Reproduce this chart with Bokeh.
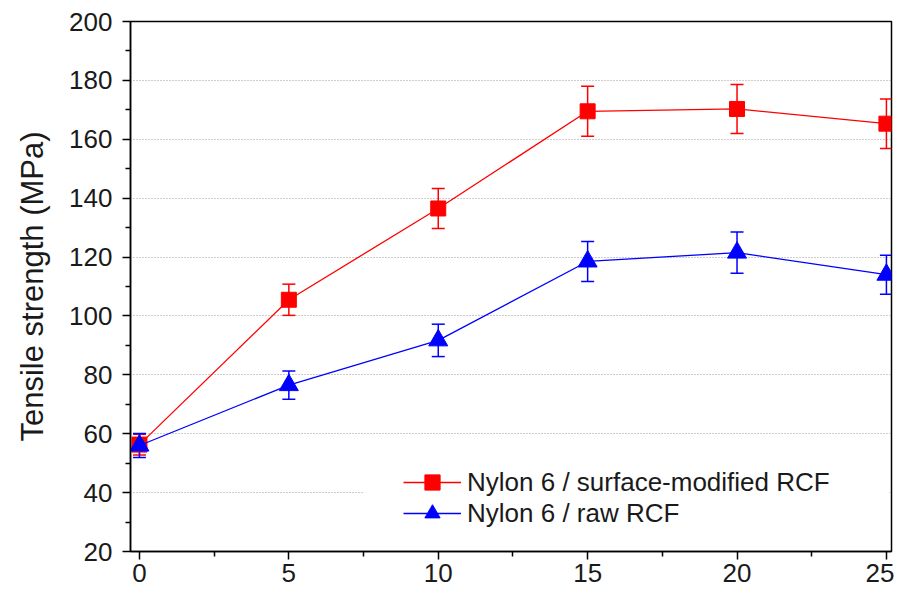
from bokeh.plotting import figure
from bokeh.models import (ColumnDataSource, Whisker, TeeHead, Range1d, FixedTicker, BoxAnnotation,
                          Legend, LegendItem)
from bokeh.embed import file_html
from bokeh.resources import INLINE

loading = [0, 5, 10, 15, 20, 25]
modified = [56.3, 105.5, 136.5, 169.5, 170.3, 165.3]
modified_err = [3.5, 5.3, 6.8, 8.5, 8.3, 8.4]
raw = [56.0, 76.5, 91.7, 118.5, 121.5, 114.0]
raw_err = [4.1, 4.8, 5.5, 6.8, 7.0, 6.6]
x_ticks = [0, 5, 10, 15, 20, 25]
y_ticks = [20, 40, 60, 80, 100, 120, 140, 160, 180, 200]
labels = ["Nylon 6 / surface-modified RCF", "Nylon 6 / raw RCF"]
y_title = "Tensile strength (MPa)"

FONT = "Liberation Sans"
RED = "#ff0000"
BLUE = "#0000ff"

p = figure(width=894, height=591, output_backend="svg", toolbar_location=None,
           x_range=Range1d(-0.3, 25.17), y_range=Range1d(20, 200),
           min_border_left=130, min_border_right=3, min_border_top=21, min_border_bottom=40)

p.outline_line_color = "black"
p.outline_line_width = 1.5
p.background_fill_color = "white"
p.border_fill_color = "white"

for ax in (p.xaxis[0], p.yaxis[0]):
    ax.axis_line_color = "black"
    ax.axis_line_width = 1.5
    ax.major_tick_line_color = "black"
    ax.major_tick_line_width = 1.5
    ax.minor_tick_line_color = "black"
    ax.minor_tick_line_width = 1.5
    ax.major_tick_in = 0
    ax.major_tick_out = 8
    ax.minor_tick_in = 0
    ax.minor_tick_out = 5
    ax.major_label_text_font = FONT
    ax.major_label_text_font_size = "26px"
    ax.major_label_text_color = "#1a1a1a"

p.yaxis.major_label_standoff = 10
p.xaxis.major_label_standoff = 4

p.xaxis.ticker = FixedTicker(ticks=x_ticks, minor_ticks=[2.5, 7.5, 12.5, 17.5, 22.5])
p.yaxis.ticker = FixedTicker(ticks=y_ticks, minor_ticks=[30, 50, 70, 90, 110, 130, 150, 170, 190])

p.yaxis.axis_label = y_title
p.yaxis.axis_label_text_font = FONT
p.yaxis.axis_label_text_font_size = "31px"
p.yaxis.axis_label_text_font_style = "normal"
p.yaxis.axis_label_text_color = "#1a1a1a"
p.yaxis.axis_label_standoff = 16

p.xgrid.grid_line_color = None
p.ygrid.ticker = FixedTicker(ticks=[40, 60, 80, 100, 120, 140, 160, 180])
p.ygrid.grid_line_color = "#9a9a9a"
p.ygrid.grid_line_dash = "1 2"
p.ygrid.grid_line_width = 1.2

src_m = ColumnDataSource(dict(x=loading, y=modified,
                              lo=[v - e for v, e in zip(modified, modified_err)],
                              hi=[v + e for v, e in zip(modified, modified_err)]))
src_r = ColumnDataSource(dict(x=loading, y=raw,
                              lo=[v - e for v, e in zip(raw, raw_err)],
                              hi=[v + e for v, e in zip(raw, raw_err)]))

# white area behind the legend that hides the gridline there
p.add_layout(BoxAnnotation(left=7.5, right=25.1, bottom=34, top=46,
                           fill_color="white", fill_alpha=1.0, line_alpha=0, level="underlay"))

lm = p.line("x", "y", source=src_m, line_color=RED, line_width=1.3)
p.add_layout(Whisker(source=src_m, base="x", upper="hi", lower="lo", line_color=RED, line_width=1.5,
                     upper_head=TeeHead(size=13, line_color=RED, line_width=1.5),
                     lower_head=TeeHead(size=13, line_color=RED, line_width=1.5)))
sm = p.scatter("x", "y", source=src_m, marker="square", size=15, fill_color=RED, line_color=RED)

lr = p.line("x", "y", source=src_r, line_color=BLUE, line_width=1.3)
p.add_layout(Whisker(source=src_r, base="x", upper="hi", lower="lo", line_color=BLUE, line_width=1.5,
                     upper_head=TeeHead(size=13, line_color=BLUE, line_width=1.5),
                     lower_head=TeeHead(size=13, line_color=BLUE, line_width=1.5)))
sr = p.scatter("x", "y", source=src_r, marker="triangle", size=19, fill_color=BLUE, line_color=BLUE)


def make_legend(label, renderers, loc):
    lg = Legend(items=[LegendItem(label=label, renderers=renderers)], location=loc)
    lg.label_text_font = FONT
    lg.label_text_font_size = "26px"
    lg.label_text_color = "#1a1a1a"
    lg.glyph_width = 58
    lg.glyph_height = 38
    lg.label_height = 24
    lg.spacing = 0
    lg.padding = 1
    lg.margin = 0
    lg.label_standoff = 6
    lg.border_line_alpha = 0
    lg.background_fill_alpha = 0
    return lg


p.add_layout(make_legend(labels[0], [lm, sm], (272, 49)), "center")
p.add_layout(make_legend(labels[1], [lr, sr], (272, 18)), "center")

open("out.html", "w").write(file_html(p, INLINE))
